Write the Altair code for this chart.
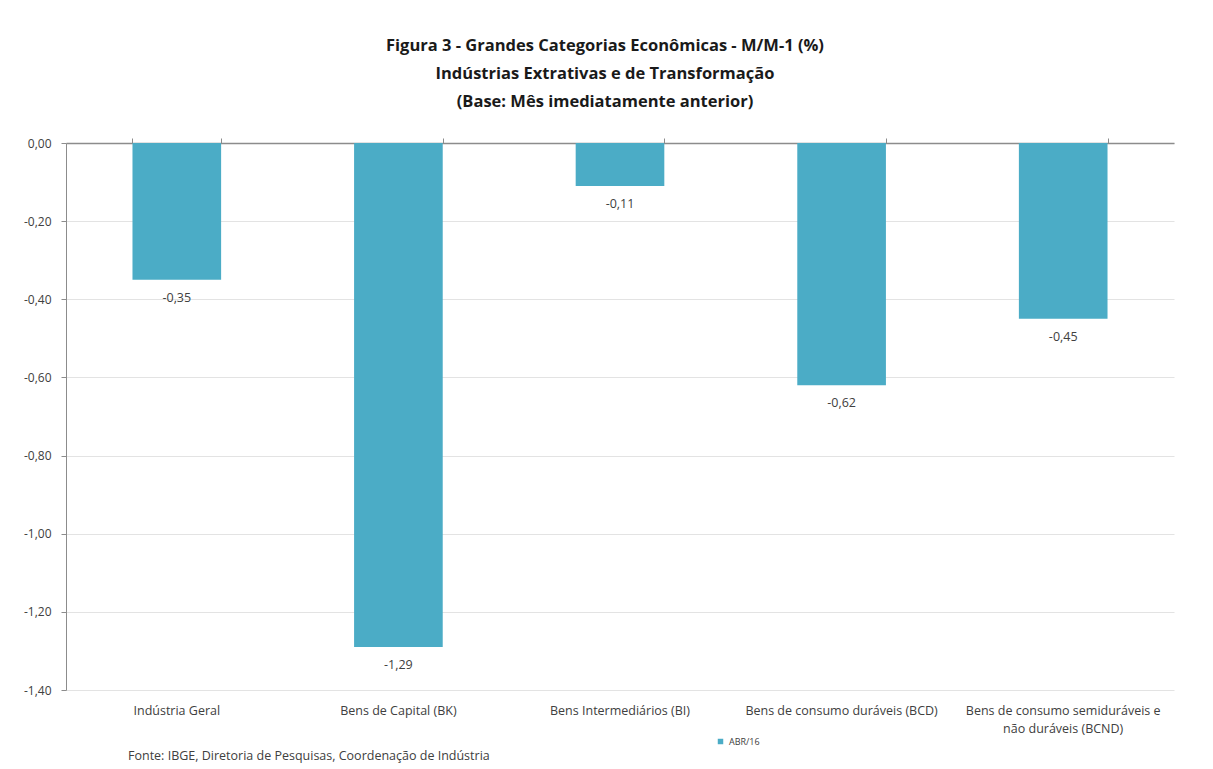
import altair as alt
import pandas as pd

categories = [
    "Indústria Geral",
    "Bens de Capital (BK)",
    "Bens Intermediários (BI)",
    "Bens de consumo duráveis (BCD)",
    "Bens de consumo semiduráveis e|não duráveis (BCND)",
]
values = [-0.35, -1.29, -0.11, -0.62, -0.45]
series = "ABR/16"
y_ticks = [0.0, -0.2, -0.4, -0.6, -0.8, -1.0, -1.2, -1.4]

df = pd.DataFrame({
    "cat": categories,
    "val": values,
    "serie": [series] * len(values),
    "label": [("-" if v < 0 else "") + f"{abs(v):.2f}".replace(".", ",") for v in values],
})

FONT = "Open Sans"
TXT = "#404040"

xscale = alt.Scale(paddingInner=0.6, paddingOuter=0.3)
yscale = alt.Scale(domain=[-1.4, 0], nice=False, zero=True)
yaxis = alt.Axis(values=y_ticks, grid=True, gridColor="#e3e3e3",
                 domain=True, domainColor="#8c8c8c", tickColor="#8c8c8c",
                 tickSize=5, labelPadding=10, labelFontSize=12,
                 labelColor=TXT, labelFont=FONT,
                 labelExpr="(datum.value < -0.0001 ? '-' : '') + replace(format(abs(datum.value), '.2f'), '.', ',')")

base = alt.Chart(df)

bars = base.mark_bar(color="#4BACC6").encode(
    x=alt.X("cat:N", sort=categories, scale=xscale, title=None,
            axis=alt.Axis(orient="bottom", domain=False, ticks=False, labelAngle=0,
                          labelExpr="split(datum.label, '|')", labelFontSize=12.5,
                          labelColor=TXT, labelPadding=14, labelFont=FONT,
                          labelLimit=300, labelLineHeight=18)),
    y=alt.Y("val:Q", scale=yscale, title=None, axis=yaxis),
    fill=alt.Fill("serie:N", scale=alt.Scale(range=["#4BACC6"]),
                  legend=alt.Legend(title=None, orient="none", legendX=650, legendY=594,
                                    symbolType="square", symbolSize=30, labelFontSize=9,
                                    labelColor=TXT, labelFont=FONT, symbolStrokeWidth=0)),
)

toprule = base.mark_bar(opacity=0).encode(
    x=alt.X("cat:N", sort=categories, scale=xscale, title=None,
            axis=alt.Axis(orient="top", labels=False, domain=True, domainColor="#8c8c8c",
                          domainWidth=1.5, ticks=True, tickBand="extent", tickColor="#8c8c8c",
                          tickSize=5)),
    y=alt.Y("val:Q", scale=yscale, title=None, axis=yaxis),
)

labels = base.mark_text(baseline="top", dy=12, fontSize=12.5, color=TXT, font=FONT).encode(
    x=alt.X("cat:N", sort=categories, scale=xscale, axis=None),
    y=alt.Y("val:Q", scale=yscale, title=None, axis=yaxis),
    text="label:N",
)

source = alt.Chart(pd.DataFrame({"t": ["Fonte: IBGE, Diretoria de Pesquisas, Coordenação de Indústria"]})).mark_text(
    align="left", baseline="alphabetic", fontSize=12.5, color=TXT, font=FONT
).encode(x=alt.value(62), y=alt.value(617), text="t:N")

chart = alt.layer(bars, toprule, labels, source).resolve_axis(x="independent").properties(
    width=1108, height=547,
    padding={"left": 58, "top": 135, "right": 31, "bottom": 84},
    autosize=alt.AutoSizeParams(type="none"),
    title=alt.Title(
        ["Figura 3 - Grandes Categorias Econômicas - M/M-1 (%)",
         "Indústrias  Extrativas e de Transformação",
         "(Base: Mês imediatamente anterior)"],
        font=FONT, fontSize=16.5, fontWeight="bold", color="#1a1a1a",
        anchor="middle", dx=-15, offset=27, lineHeight=28,
    ),
).configure_view(stroke=None)

chart.save("out.html", embed_options={"renderer": "svg", "actions": False})
